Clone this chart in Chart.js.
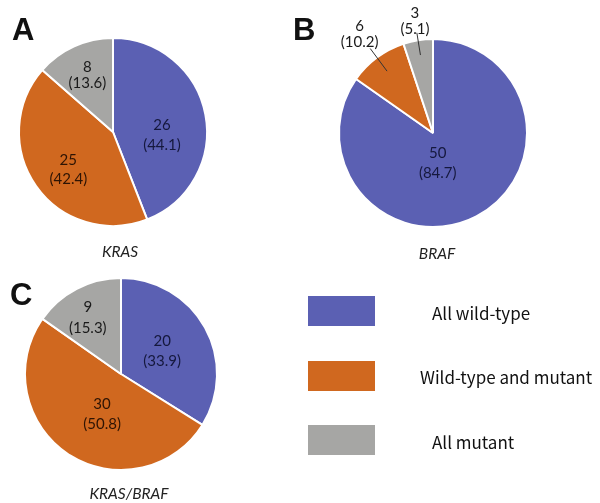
<!DOCTYPE html>
<html><head><meta charset="utf-8">
<script src="https://cdn.jsdelivr.net/npm/chart.js@4"></script>
<style>
body{margin:0;background:#fff;}
#wrap{position:relative;width:600px;height:503px;overflow:hidden;background:#fff;}
canvas{position:absolute;left:0;top:0;}
.lt{position:absolute;font-family:Arial,"Liberation Sans",sans-serif;font-weight:bold;font-size:31px;line-height:31px;color:#111;}
.tt{position:absolute;font-family:Lato,sans-serif;font-style:italic;font-size:15.5px;line-height:18px;color:#222;transform:translate(-50%,-50%);white-space:nowrap;}
.sw{position:absolute;left:308px;width:67px;height:30px;}
.lg{position:absolute;font-family:"Noto Sans CJK JP",sans-serif;font-size:17px;line-height:20px;color:#111;transform:translateY(-50%);white-space:nowrap;}
</style></head>
<body>
<div id="wrap">
<canvas id="pieA" width="600" height="503"></canvas>
<canvas id="pieB" width="600" height="503"></canvas>
<canvas id="pieC" width="600" height="503"></canvas>
</div>
<script>
// ---- data ----
const categories = ['All wild-type', 'Wild-type and mutant', 'All mutant'];
const krasCounts = [26, 25, 8];
const krasPct = [44.1, 42.4, 13.6];
const brafCounts = [50, 6, 3];
const brafPct = [84.7, 10.2, 5.1];
const comboCounts = [20, 30, 9];
const comboPct = [33.9, 50.8, 15.3];
const panelLetters = ['A', 'B', 'C'];
const panelTitles = ['KRAS', 'BRAF', 'KRAS/BRAF'];

// ---- style ----
const colors = ['#5b60b3', '#d0681f', '#a6a6a4'];
const textColors = ['#15183d', '#2e1404', '#1a1a1a'];

// label placement (fraction of radius along slice mid-angle, plus small nudges)
const labelCfg = {
  pieA: [{r:0.53, dx:0, dy:12, lh:20}, {r:0.62, dx:3, dy:4, lh:19}, {r:0.66, dx:0, dy:0, lh:16}],
  pieB: [{r:0.34, dx:-10, dy:2, lh:20}, {r:1.31, dx:0, dy:0, lh:16, leader:[0.82,1.12]}, {r:1.21, dx:0, dy:0, lh:16, leader:[0.84,1.08]}],
  pieC: [{r:0.49, dx:0, dy:0, lh:20}, {r:0.47, dx:6, dy:3, lh:20}, {r:0.66, dx:-4, dy:0, lh:21}]
};

const sliceLabels = {
  id: 'sliceLabels',
  afterDatasetsDraw(chart) {
    const cfg = labelCfg[chart.canvas.id];
    if (!cfg) return;
    const ctx = chart.ctx;
    const ds = chart.data.datasets[0];
    const meta = chart.getDatasetMeta(0);
    ctx.save();
    meta.data.forEach((arc, i) => {
      const p = arc.getProps(['x','y','startAngle','endAngle','outerRadius'], true);
      const mid = (p.startAngle + p.endAngle) / 2;
      const c = cfg[i];
      const R = p.outerRadius;
      if (c.leader) {
        ctx.beginPath();
        ctx.strokeStyle = '#333';
        ctx.lineWidth = 1;
        ctx.moveTo(p.x + Math.cos(mid) * c.leader[0] * R, p.y + Math.sin(mid) * c.leader[0] * R);
        ctx.lineTo(p.x + Math.cos(mid) * c.leader[1] * R, p.y + Math.sin(mid) * c.leader[1] * R);
        ctx.stroke();
      }
      const lx = p.x + Math.cos(mid) * c.r * R + c.dx;
      const ly = p.y + Math.sin(mid) * c.r * R + c.dy;
      ctx.font = '15px Lato, sans-serif';
      ctx.fillStyle = c.leader ? '#1a1a1a' : textColors[i];
      ctx.textAlign = 'center';
      ctx.textBaseline = 'middle';
      ctx.fillText(String(ds.data[i]), lx, ly - c.lh / 2);
      ctx.fillText('(' + ds.pct[i].toFixed(1) + ')', lx, ly + c.lh / 2);
    });
    ctx.restore();
  }
};

function makePie(id, counts, pct, padding, radius) {
  return new Chart(document.getElementById(id), {
    type: 'pie',
    data: {
      labels: categories,
      datasets: [{
        data: counts,
        pct: pct,
        backgroundColor: colors,
        borderColor: '#ffffff',
        borderWidth: 2,
        radius: radius
      }]
    },
    options: {
      responsive: false,
      animation: false,
      events: [],
      layout: { padding: padding },
      plugins: { legend: { display: false }, tooltip: { enabled: false } }
    },
    plugins: [sliceLabels]
  });
}

makePie('pieA', krasCounts, krasPct, {left:18, right:392, top:37, bottom:276}, 94);
makePie('pieB', brafCounts, brafPct, {left:338, right:72, top:38, bottom:275}, 94);
makePie('pieC', comboCounts, comboPct, {left:24, right:382, top:277, bottom:32}, 96);

// ---- panel letters, titles, legend ----
const wrap = document.getElementById('wrap');
function addDiv(cls, text, left, top) {
  const d = document.createElement('div');
  d.className = cls;
  d.textContent = text;
  d.style.left = left + 'px';
  d.style.top = top + 'px';
  wrap.appendChild(d);
  return d;
}
const letterPos = [[12, 14], [293, 14], [10, 279]];
panelLetters.forEach((t, i) => addDiv('lt', t, letterPos[i][0], letterPos[i][1]));
const titlePos = [[120, 251], [437, 253], [129, 493]];
panelTitles.forEach((t, i) => addDiv('tt', t, titlePos[i][0], titlePos[i][1]));
const swatchTop = [296, 361, 425];
const legendPos = [[432, 313], [420, 377], [432, 442]];
categories.forEach((t, i) => {
  const s = document.createElement('div');
  s.className = 'sw';
  s.style.top = swatchTop[i] + 'px';
  s.style.background = colors[i];
  wrap.appendChild(s);
  addDiv('lg', t, legendPos[i][0], legendPos[i][1]);
});
</script>
</body></html>
